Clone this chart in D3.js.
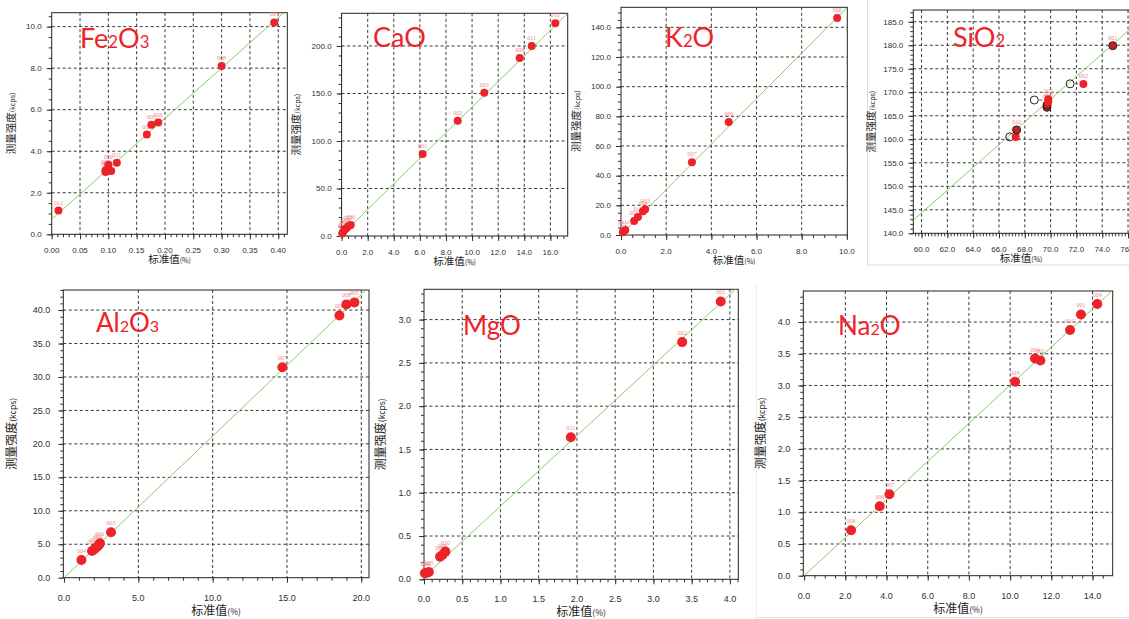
<!DOCTYPE html>
<html lang="zh">
<head>
<meta charset="UTF-8">
<title>XRF 校准曲线</title>
<script src="https://d3js.org/d3.v7.min.js"></script>
<style>
  body { margin: 0; background: #fff; }
  svg { display: block; overflow: hidden; }
  .tick-label { font-family: "Liberation Sans", Arial, sans-serif; fill: #2e2e3c; }
  .axis-title { font-family: "Noto Sans CJK SC", sans-serif; fill: #222; }
  .pt-label { font-family: "Liberation Serif", serif; font-size: 6px; fill: #f08a8a; }
</style>
</head>
<body>
<svg id="chart" width="1129" height="619"></svg>
<script>
// ---- data ----
// Fe2O3
const feX = [0.012, 0.095, 0.095, 0.100, 0.105, 0.115, 0.168, 0.176, 0.188, 0.300, 0.393];
const feY = [1.14, 3.00, 3.08, 3.35, 3.05, 3.45, 4.80, 5.27, 5.38, 8.10, 10.20];
const feLabels = ["012", "004", "007", "009", "010", "011", "002", "005", "006", "008", "003"];
const feFitX = [0, 0.416], feFitY = [0.72, 10.83];
const feXTicks = [0, 0.05, 0.10, 0.15, 0.20, 0.25, 0.30, 0.35, 0.40];
const feYTicks = [0, 2, 4, 6, 8, 10];

// CaO
const caX = [0.05, 0.12, 0.22, 0.35, 0.50, 0.70, 6.21, 8.90, 10.94, 13.65, 14.57, 16.38];
const caY = [2.5, 4.5, 6.5, 8.0, 10.0, 11.5, 86.3, 121.4, 150.9, 187.4, 200.0, 223.9];
const caLabels = ["012", "007", "004", "008", "005", "006", "001", "002", "003", "009", "011", "010"];
const caFitX = [0, 17.33], caFitY = [1.0, 234.4];
const caXTicks = [0, 2, 4, 6, 8, 10, 12, 14, 16];
const caYTicks = [0, 50, 100, 150, 200];

// K2O
const kX = [0.08, 0.19, 0.58, 0.75, 0.97, 1.07, 3.14, 4.77, 9.57];
const kY = [1.8, 3.4, 9.4, 12.1, 16.0, 17.3, 49.0, 76.2, 146.3];
const kLabels = ["012", "011", "005", "010", "004", "003", "007", "009", "006"];
const kFitX = [0, 10.02], kFitY = [0, 153.5];
const kXTicks = [0, 2, 4, 6, 8, 10];
const kYTicks = [0, 20, 40, 60, 80, 100, 120, 140];

// SiO2  (r = red, o = hollow, d = red with dark outline)
const siX = [66.83, 67.30, 67.37, 68.74, 69.72, 69.72, 69.82, 69.82, 71.51, 72.54, 74.82];
const siY = [160.5, 160.5, 162.0, 168.35, 166.8, 167.3, 168.0, 168.5, 171.8, 171.75, 179.9];
const siKind = ["o", "r", "d", "o", "d", "d", "r", "r", "o", "r", "d"];
const siLabels = ["", "009", "010", "", "", "004", "006", "005", "", "002", "001"];
const siFitX = [59.36, 76.23], siFitY = [142.8, 183.6];
const siXTicks = [60, 62, 64, 66, 68, 70, 72, 74, 76];
const siYTicks = [140, 145, 150, 155, 160, 165, 170, 175, 180, 185];

// Al2O3
const alX = [1.17, 1.88, 2.04, 2.22, 2.33, 2.42, 3.16, 14.69, 18.53, 19.00, 19.54];
const alY = [2.65, 4.00, 4.25, 4.60, 4.85, 5.15, 6.80, 31.45, 39.20, 40.85, 41.15];
const alLabels = ["004", "010", "012", "011", "002", "001", "003", "007", "006", "008", "005"];
const alFitX = [0, 20.32], alFitY = [0, 43];
const alXTicks = [0, 5, 10, 15, 20];
const alYTicks = [0, 5, 10, 15, 20, 25, 30, 35, 40];

// MgO
const mgX = [0.012, 0.04, 0.064, 0.21, 0.24, 0.28, 1.92, 3.376, 3.88];
const mgY = [0.07, 0.076, 0.085, 0.26, 0.28, 0.32, 1.64, 2.74, 3.21];
const mgLabels = ["004", "012", "005", "006", "009", "010", "011", "002", "001"];
const mgFitX = [0, 4.11], mgFitY = [0.03, 3.38];
const mgXTicks = [0, 0.5, 1, 1.5, 2, 2.5, 3, 3.5, 4];
const mgYTicks = [0, 0.5, 1, 1.5, 2, 2.5, 3];

// Na2O
const naX = [2.28, 3.67, 4.14, 10.24, 11.21, 11.47, 12.91, 13.44, 14.23];
const naY = [0.717, 1.095, 1.285, 3.058, 3.425, 3.394, 3.874, 4.12, 4.284];
const naLabels = ["008", "006", "007", "003", "004", "002", "010", "001", "009"];
const naFitX = [0, 14.98], naFitY = [0, 4.5];
const naXTicks = [0, 2, 4, 6, 8, 10, 12, 14];
const naYTicks = [0, 0.5, 1, 1.5, 2, 2.5, 3, 3.5, 4];

// ---- layout ----
const topSz = { tick: 8, title: 10.5, small: 7, r: 4, xTickOff: 19, xTitleOff: 29, yTickOff: 10, titleSize: 27 };
const botSz = { tick: 9, title: 12, small: 8.5, r: 5, xTickOff: 23, xTitleOff: 37, yTickOff: 13, titleSize: 26 };

const panels = [
  { name: [["Fe", 0], ["2", 1], ["O", 0], ["3", 1]], nx: 80, ny: 48, sz: topSz,
    box: [51.7, 287.3, 12.7, 234.3], xd: [0, 0.416], yd: [0, 10.67], yTitle: -37,
    xs: feX, ys: feY, labels: feLabels, fitX: feFitX, fitY: feFitY,
    xt: feXTicks, yt: feYTicks, xf: ".2f", yf: ".1f", xm: 0.01, ym: 0.5 },
  { name: [["CaO", 0]], nx: 373, ny: 47, sz: topSz,
    box: [341.6, 567.7, 13.3, 236], xd: [0, 17.33], yd: [0, 234.4], yTitle: -42,
    xs: caX, ys: caY, labels: caLabels, fitX: caFitX, fitY: caFitY,
    xt: caXTicks, yt: caYTicks, xf: ".1f", yf: ".1f", xm: 0.5, ym: 10 },
  { name: [["K", 0], ["2", 1], ["O", 0]], nx: 665, ny: 47, sz: topSz,
    box: [621, 847.3, 7.3, 235], xd: [0, 10.02], yd: [0, 153.5], yTitle: -41,
    xs: kX, ys: kY, labels: kLabels, fitX: kFitX, fitY: kFitY,
    xt: kXTicks, yt: kYTicks, xf: ".1f", yf: ".1f", xm: 0.5, ym: 5 },
  { name: [["SiO", 0], ["2", 1]], nx: 953, ny: 47, sz: topSz,
    box: [913.3, 1131, 10, 233.3], xd: [59.36, 76.23], yd: [140, 187.5], yTitle: -38,
    xs: siX, ys: siY, labels: siLabels, kinds: siKind, fitX: siFitX, fitY: siFitY,
    xt: siXTicks, yt: siYTicks, xf: ".1f", yf: ".1f", xm: 0.25, ym: 1 },
  { name: [["Al", 0], ["2", 1], ["O", 0], ["3", 1]], nx: 96, ny: 332, sz: botSz,
    box: [63.3, 369, 290, 577.7], xd: [-0.05, 20.52], yd: [0, 43], yTitle: -47,
    xs: alX, ys: alY, labels: alLabels, fitX: alFitX, fitY: alFitY,
    xt: alXTicks, yt: alYTicks, xf: ".1f", yf: ".1f", xm: 1, ym: 1 },
  { name: [["MgO", 0]], nx: 463, ny: 335, sz: botSz,
    box: [424, 738.3, 289.3, 579.3], xd: [0, 4.11], yd: [0, 3.35], yTitle: -39,
    xs: mgX, ys: mgY, labels: mgLabels, fitX: mgFitX, fitY: mgFitY,
    xt: mgXTicks, yt: mgYTicks, xf: ".1f", yf: ".1f", xm: 0.1, ym: 0.1 },
  { name: [["Na", 0], ["2", 1], ["O", 0]], nx: 838, ny: 335, sz: botSz,
    box: [803.3, 1112.7, 291, 575.7], xd: [-0.04, 14.98], yd: [0, 4.49], yTitle: -38,
    xs: naX, ys: naY, labels: naLabels, fitX: naFitX, fitY: naFitY,
    xt: naXTicks, yt: naYTicks, xf: ".1f", yf: ".1f", xm: 0.5, ym: 0.1 }
];

const svg = d3.select("#chart");

// faint frames of the pasted screenshots
svg.append("rect").attr("x", 867.5).attr("y", -1).attr("width", 270).attr("height", 266)
  .attr("fill", "none").attr("stroke", "#dcdcdc");
svg.append("line").attr("x1", 756.5).attr("x2", 756.5).attr("y1", 284).attr("y2", 619)
  .attr("stroke", "#ececec");
svg.append("line").attr("x1", 756).attr("x2", 1129).attr("y1", 617.5).attr("y2", 617.5)
  .attr("stroke", "#e4e4e4");

panels.forEach((p, i) => {
  const [L, R, T, B] = p.box;
  const s = p.sz;
  const g = svg.append("g");
  const x = d3.scaleLinear().domain(p.xd).range([L, R]);
  const y = d3.scaleLinear().domain(p.yd).range([B, T]);

  g.append("clipPath").attr("id", "clip" + i)
    .append("rect").attr("x", L).attr("y", T).attr("width", R - L).attr("height", B - T);

  // grid
  g.selectAll(".vg").data(p.xt.filter(t => x(t) > L + 2 && x(t) < R - 2)).join("line")
    .attr("x1", d => x(d)).attr("x2", d => x(d)).attr("y1", T).attr("y2", B)
    .attr("stroke", "#222").attr("stroke-dasharray", "3,2.5").attr("stroke-width", 0.9);
  g.selectAll(".hg").data(p.yt.filter(t => y(t) > T + 2 && y(t) < B - 2)).join("line")
    .attr("y1", d => y(d)).attr("y2", d => y(d)).attr("x1", L).attr("x2", R)
    .attr("stroke", "#222").attr("stroke-dasharray", "3,2.5").attr("stroke-width", 0.9);

  // minor + major ticks
  const xMinor = d3.range(Math.ceil(p.xd[0] / p.xm), Math.floor(p.xd[1] / p.xm) + 1).map(k => k * p.xm);
  const yMinor = d3.range(Math.ceil(p.yd[0] / p.ym), Math.floor(p.yd[1] / p.ym) + 1).map(k => k * p.ym);
  const gx1 = g.append("g").attr("transform", `translate(0,${B})`)
    .call(d3.axisBottom(x).tickValues(xMinor).tickFormat("").tickSize(3));
  const gx2 = g.append("g").attr("transform", `translate(0,${B})`)
    .call(d3.axisBottom(x).tickValues(p.xt).tickFormat("").tickSize(5));
  const gy1 = g.append("g").attr("transform", `translate(${L},0)`)
    .call(d3.axisLeft(y).tickValues(yMinor).tickFormat("").tickSize(3));
  const gy2 = g.append("g").attr("transform", `translate(${L},0)`)
    .call(d3.axisLeft(y).tickValues(p.yt).tickFormat("").tickSize(5));
  [gx1, gx2, gy1, gy2].forEach(a => {
    a.select(".domain").remove();
    a.selectAll("line").attr("stroke", "#333");
  });

  // tick labels
  const xfmt = d3.format(p.xf), yfmt = d3.format(p.yf);
  g.selectAll(".xl").data(p.xt).join("text").attr("class", "tick-label")
    .attr("x", d => x(d)).attr("y", B + s.xTickOff).attr("text-anchor", "middle")
    .attr("font-size", s.tick).text(d => xfmt(d));
  g.selectAll(".yl").data(p.yt).join("text").attr("class", "tick-label")
    .attr("x", L - s.yTickOff).attr("y", d => y(d)).attr("dy", "0.35em").attr("text-anchor", "end")
    .attr("font-size", s.tick).text(d => yfmt(d));

  // axis titles
  const xt = g.append("text").attr("class", "axis-title").attr("text-anchor", "middle")
    .attr("x", (L + Math.min(R, 1129)) / 2).attr("y", B + s.xTitleOff)
    .attr("font-size", s.title);
  xt.append("tspan").text("标准值");
  xt.append("tspan").attr("font-size", s.small).text("(%)");
  const yt = g.append("text").attr("class", "axis-title").attr("text-anchor", "middle")
    .attr("transform", `translate(${L + p.yTitle},${(T + B) / 2}) rotate(-90)`)
    .attr("font-size", s.title);
  yt.append("tspan").text("测量强度");
  yt.append("tspan").attr("font-size", s.small).text("(kcps)");

  // frame
  g.append("rect").attr("x", L).attr("y", T).attr("width", R - L).attr("height", B - T)
    .attr("fill", "none").attr("stroke", "#222").attr("stroke-width", 1);

  // fit line
  g.append("line").attr("clip-path", `url(#clip${i})`)
    .attr("x1", x(p.fitX[0])).attr("y1", y(p.fitY[0]))
    .attr("x2", x(p.fitX[1])).attr("y2", y(p.fitY[1]))
    .attr("stroke", "#86cf62").attr("stroke-width", 1);

  // points
  const pts = p.xs.map((v, k) => ({ x: v, y: p.ys[k], label: p.labels[k], kind: p.kinds ? p.kinds[k] : "r" }));
  g.selectAll(".pl").data(pts.filter(d => d.label)).join("text").attr("class", "pt-label")
    .attr("x", d => x(d.x)).attr("y", d => y(d.y) - s.r - 2).attr("text-anchor", "middle")
    .text(d => d.label);
  g.selectAll(".dash").data(pts.filter(d => d.kind === "o")).join("line")
    .attr("x1", d => x(d.x) + 5).attr("x2", d => x(d.x) + 8)
    .attr("y1", d => y(d.y)).attr("y2", d => y(d.y)).attr("stroke", "#555");
  g.selectAll(".pt").data(pts).join("circle")
    .attr("cx", d => x(d.x)).attr("cy", d => y(d.y)).attr("r", s.r)
    .attr("fill", d => d.kind === "o" ? "none" : (d.kind === "d" ? "#c42024" : "#ee2229"))
    .attr("stroke", d => d.kind === "r" ? "none" : "#222").attr("stroke-width", 1);

  // element name
  const nm = g.append("text").attr("x", p.nx).attr("y", p.ny)
    .attr("font-family", "Lato, 'Open Sans', sans-serif").attr("font-size", s.titleSize)
    .attr("fill", "#ee2229");
  p.name.forEach(([t, sub]) => {
    nm.append("tspan").attr("font-size", sub ? s.titleSize * 0.62 : s.titleSize).text(t);
  });
});
</script>
</body>
</html>
